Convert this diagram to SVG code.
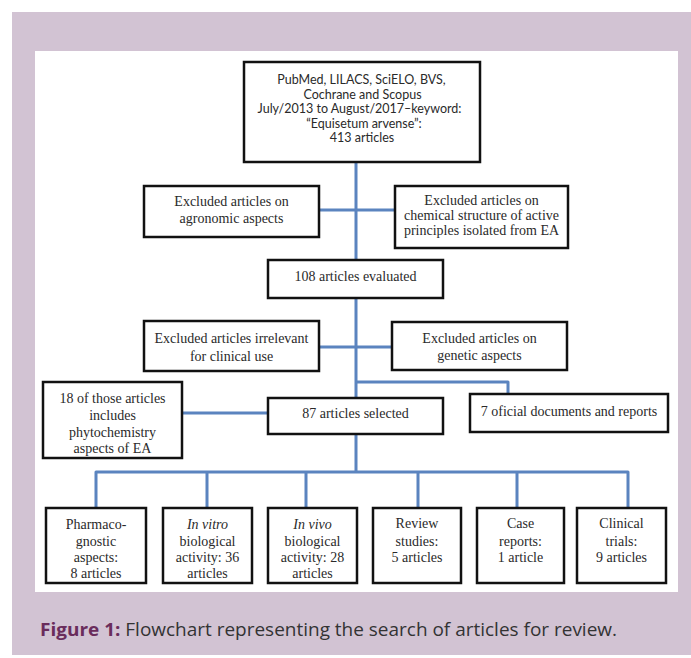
<svg xmlns="http://www.w3.org/2000/svg" width="691" height="658" viewBox="0 0 691 658">
<style>
.box{fill:#fff;stroke:#111;stroke-width:2.5}
.t{font-family:"Liberation Serif","Times New Roman",serif;font-size:14px;fill:#2a2a2a;text-anchor:middle}
.c{font-family:Lato,"Liberation Sans",Arial,sans-serif;font-size:12.5px;fill:#2a2a2a;text-anchor:middle}
.i{font-style:italic}
.con{fill:none;stroke:#5b84bf;stroke-width:3;stroke-linejoin:round}
</style>
<rect x="0" y="0" width="691" height="658" fill="#fff"/>
<rect x="12" y="12" width="679" height="643" fill="#d2c3d3"/>
<rect x="35" y="51" width="643" height="541" fill="#fff"/>
<g id="connectors">
<path class="con" d="M356 162V260M319 210H395M356 298V398M319 347H392M356 382H508V394M182 413H268M356 434V472M96 508V472H628V508M207 472V508M306 472V508M418 472V508M517 472V508"/>
</g>
<g id="n-search">
<rect class="box" x="244" y="62" width="236" height="100" stroke-width="3"/>
<text class="c" x="361.5" y="84">PubMed, LILACS, SciELO, BVS,</text>
<text class="c" x="362.5" y="98.5">Cochrane and Scopus</text>
<text class="c" x="359.5" y="113">July/2013 to August/2017–keyword:</text>
<text class="c" x="364" y="127.5">“Equisetum arvense”:</text>
<text class="c" x="362" y="142">413 articles</text>
</g>
<g id="n-agro">
<rect class="box" x="144" y="186" width="175" height="51"/>
<text class="t" x="231.5" y="206">Excluded articles on</text>
<text class="t" x="231.5" y="223">agronomic aspects</text>
</g>
<g id="n-chem">
<rect class="box" x="395" y="186" width="173" height="62"/>
<text class="t" x="481.5" y="205">Excluded articles on</text>
<text class="t" x="481.5" y="220">chemical structure of active</text>
<text class="t" x="481.5" y="235">principles isolated from EA</text>
</g>
<g id="n-108">
<rect class="box" x="268" y="260" width="175" height="38"/>
<text class="t" x="355.5" y="281">108 articles evaluated</text>
</g>
<g id="n-irrel">
<rect class="box" x="144" y="321" width="175" height="50"/>
<text class="t" x="231.5" y="343">Excluded articles irrelevant</text>
<text class="t" x="231.5" y="361">for clinical use</text>
</g>
<g id="n-gen">
<rect class="box" x="392" y="322" width="175" height="48"/>
<text class="t" x="479.5" y="343">Excluded articles on</text>
<text class="t" x="479.5" y="360">genetic aspects</text>
</g>
<g id="n-18">
<rect class="box" x="43" y="382" width="139" height="76"/>
<text class="t" x="112.5" y="403">18 of those articles</text>
<text class="t" x="112.5" y="420">includes</text>
<text class="t" x="112.5" y="437">phytochemistry</text>
<text class="t" x="112.5" y="453">aspects of EA</text>
</g>
<g id="n-87">
<rect class="box" x="268" y="398" width="175" height="36"/>
<text class="t" x="355.5" y="418">87 articles selected</text>
</g>
<g id="n-7">
<rect class="box" x="470" y="394" width="198" height="38"/>
<text class="t" x="569" y="416">7 oficial documents and reports</text>
</g>
<g id="n-pharm">
<rect class="box" x="46" y="508" width="100" height="75"/>
<text class="t" x="96" y="529">Pharmaco-</text>
<text class="t" x="96" y="546">gnostic</text>
<text class="t" x="96" y="562">aspects:</text>
<text class="t" x="96" y="578">8 articles</text>
</g>
<g id="n-vitro">
<rect class="box" x="163" y="508" width="89" height="75"/>
<text class="t i" x="207.5" y="529">In vitro</text>
<text class="t" x="207.5" y="546">biological</text>
<text class="t" x="207.5" y="562">activity:  36</text>
<text class="t" x="207.5" y="578">articles</text>
</g>
<g id="n-vivo">
<rect class="box" x="268" y="508" width="89" height="75"/>
<text class="t i" x="312.5" y="529">In vivo</text>
<text class="t" x="312.5" y="546">biological</text>
<text class="t" x="312.5" y="562">activity: 28</text>
<text class="t" x="312.5" y="578">articles</text>
</g>
<g id="n-review">
<rect class="box" x="373" y="508" width="88" height="75"/>
<text class="t" x="417" y="528">Review</text>
<text class="t" x="417" y="546">studies:</text>
<text class="t" x="417" y="562">5 articles</text>
</g>
<g id="n-case">
<rect class="box" x="477" y="508" width="87" height="75"/>
<text class="t" x="520.5" y="528">Case</text>
<text class="t" x="520.5" y="546">reports:</text>
<text class="t" x="520.5" y="562">1 article</text>
</g>
<g id="n-clin">
<rect class="box" x="577" y="508" width="89" height="75"/>
<text class="t" x="621.5" y="528">Clinical</text>
<text class="t" x="621.5" y="546">trials:</text>
<text class="t" x="621.5" y="562">9 articles</text>
</g>
<text x="40" y="636" font-family="'Open Sans',sans-serif" font-size="18.5" fill="#333" textLength="577" lengthAdjust="spacingAndGlyphs"><tspan font-weight="bold" fill="#6a2c5c">Figure 1:</tspan> Flowchart representing the search of articles for review.</text>
</svg>
